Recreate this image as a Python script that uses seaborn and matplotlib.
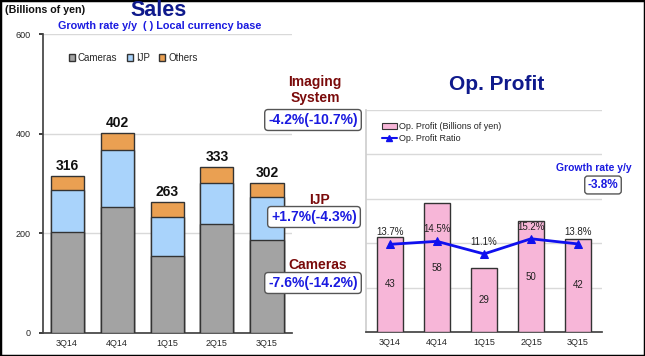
import matplotlib
matplotlib.use("Agg")
import matplotlib.pyplot as plt
import seaborn as sns
import pandas as pd
from matplotlib.patches import Rectangle
from matplotlib.lines import Line2D

quarters = ["3Q14", "4Q14", "1Q15", "2Q15", "3Q15"]
cameras = [202, 252, 154, 218, 186]
ijp = [84, 116, 78, 84, 86]
others = [30, 34, 31, 31, 30]
sales_totals = [316, 402, 263, 333, 302]
op_profit = [43, 58, 29, 50, 42]
op_ratio = [13.7, 14.5, 11.1, 15.2, 13.8]
ratio_labels = ["13.7%", "14.5%", "11.1%", "15.2%", "13.8%"]
sales_ticks = [0, 200, 400, 600]

sns.set_theme(style="white")
plt.rcParams["font.family"] = ["Liberation Sans", "DejaVu Sans"]

W, H = 645, 356
fig = plt.figure(figsize=(W / 100, H / 100), dpi=100)

def fx(px):
    return px / W

def fy(py):
    return 1 - py / H

df = pd.DataFrame({"q": quarters, "cam": cameras, "ijp": ijp, "oth": others})
df["lvl2"] = df["cam"] + df["ijp"]
df["lvl3"] = df["lvl2"] + df["oth"]

# ---------- Sales axes ----------
ax1 = fig.add_axes([fx(43), fy(333), fx(292) - fx(43), fy(34) - fy(333)])
edge = "#333333"
sns.barplot(data=df, x="q", y="lvl3", order=quarters, color="#eaa052", edgecolor=edge,
            linewidth=1, width=0.66, saturation=1, ax=ax1, label="Others", zorder=3)
sns.barplot(data=df, x="q", y="lvl2", order=quarters, color="#a9d3fb", edgecolor=edge,
            linewidth=1, width=0.66, saturation=1, ax=ax1, label="IJP", zorder=3)
sns.barplot(data=df, x="q", y="cam", order=quarters, color="#a3a3a3", edgecolor=edge,
            linewidth=1, width=0.66, saturation=1, ax=ax1, label="Cameras", zorder=3)
ax1.set_ylim(0, 600)
ax1.set_xlim(-0.48, 4.5)
ax1.set_yticks(sales_ticks)
ax1.set_yticklabels([str(t) for t in sales_ticks], fontsize=6.5)
ax1.tick_params(axis="x", labelsize=6.5, length=0, pad=4)
ax1.tick_params(axis="y", length=3, pad=6, left=True)
ax1.set_xlabel("")
ax1.set_ylabel("")
ax1.grid(axis="y", color="#d9d9d9", linewidth=1, zorder=0)
for s in ["top", "right"]:
    ax1.spines[s].set_visible(False)
ax1.spines["left"].set_color("#444444")
ax1.spines["bottom"].set_color("#444444")
for i, t in enumerate(sales_totals):
    ax1.annotate(str(t), (i, t), xytext=(0, 2), textcoords="offset points",
                 ha="center", va="bottom", fontsize=10, fontweight="bold", color="#111111")
h, l = ax1.get_legend_handles_labels()
order = [l.index("Cameras"), l.index("IJP"), l.index("Others")]
ax1.legend([h[i] for i in order], [l[i] for i in order], loc="center left",
           bbox_to_anchor=(0.07, 0.92), ncol=3, frameon=False, fontsize=7,
           handlelength=0.6, handleheight=0.6, handletextpad=0.3, columnspacing=1.0)

# ---------- Op. Profit axes ----------
ax2 = fig.add_axes([fx(366), fy(332), fx(602) - fx(366), fy(110) - fy(332)])
pdf = pd.DataFrame({"q": quarters, "op": op_profit, "ratio": op_ratio})
sns.barplot(data=pdf, x="q", y="op", order=quarters, color="#f7b6d8", edgecolor=edge,
            linewidth=1, width=0.55, saturation=1, ax=ax2, zorder=3)
ax2.set_ylim(0, 100)
ax2.set_xlim(-0.51, 4.51)
ax2.set_yticks([20, 40, 60, 80, 100])
ax2.set_yticklabels([])
ax2.tick_params(axis="y", length=0)
ax2.tick_params(axis="x", labelsize=6.5, length=0, pad=4)
ax2.set_xlabel("")
ax2.set_ylabel("")
ax2.grid(axis="y", color="#d9d9d9", linewidth=1, zorder=0)
for s in ["top", "right"]:
    ax2.spines[s].set_visible(False)
ax2.spines["left"].set_color("#cfcfcf")
ax2.spines["bottom"].set_color("#444444")
for i, v in enumerate(op_profit):
    ax2.text(i, v / 2, str(v), ha="center", va="center", fontsize=7, color="#222222", zorder=5)

ax3 = ax2.twinx()
sns.lineplot(data=pdf, x="q", y="ratio", ax=ax3, color="#1010ee", linewidth=2,
             marker="^", markersize=6, markeredgecolor="#1010ee", sort=False, zorder=6)
ax3.set_ylim(-10, 50)
ax3.set_xlim(-0.51, 4.51)
ax3.set_yticks([])
ax3.set_ylabel("")
ax3.set_xlabel("")
for s in ["top", "right", "left", "bottom"]:
    ax3.spines[s].set_visible(False)
for i, (v, lab) in enumerate(zip(op_ratio, ratio_labels)):
    ax3.annotate(lab, (i, v), xytext=(0, 5), textcoords="offset points",
                 ha="center", va="bottom", fontsize=7, color="#222222")

leg_handles = [Rectangle((0, 0), 1, 1, fc="#f7b6d8", ec=edge, lw=0.8),
               Line2D([0], [0], color="#1010ee", lw=1.5, marker="^", markersize=4)]
fig.legend(leg_handles, ["Op. Profit (Billions of yen)", "Op. Profit Ratio"],
           loc="upper left", bbox_to_anchor=(fx(374), fy(114)), frameon=False,
           fontsize=6.5, handlelength=1.6, handleheight=0.7, handletextpad=0.3,
           labelspacing=0.3)

# ---------- Texts ----------
navy = "#0f1a8c"
blue = "#1a1ae0"
dred = "#7a0a0a"
fig.text(fx(5), fy(10), "(Billions of yen)", fontsize=7.7, fontweight="bold",
         color="#111111", va="center", ha="left")
fig.text(fx(159), fy(20.5), "Sales", fontsize=15.5, fontweight="bold", color=navy,
         va="bottom", ha="center")
fig.text(fx(58), fy(21), "Growth rate y/y  ( ) Local currency base", fontsize=7.8,
         fontweight="bold", color=blue, va="top", ha="left")
fig.text(fx(497), fy(85), "Op. Profit", fontsize=15, fontweight="bold", color=navy,
         va="center", ha="center")

box = dict(boxstyle="round,pad=0.25", fc="white", ec="#555555", lw=1)
fig.text(fx(315), fy(90), "Imaging\nSystem", fontsize=10, fontweight="bold", color=dred,
         va="center", ha="center", linespacing=1.25)
fig.text(fx(313), fy(120), "-4.2%(-10.7%)", fontsize=10, fontweight="bold", color=blue,
         va="center", ha="center", bbox=box)
fig.text(fx(320), fy(200), "IJP", fontsize=10, fontweight="bold", color=dred,
         va="center", ha="center")
fig.text(fx(314), fy(217), "+1.7%(-4.3%)", fontsize=10, fontweight="bold", color=blue,
         va="center", ha="center", bbox=box)
fig.text(fx(318), fy(265), "Cameras", fontsize=10, fontweight="bold", color=dred,
         va="center", ha="center")
fig.text(fx(313), fy(283), "-7.6%(-14.2%)", fontsize=10, fontweight="bold", color=blue,
         va="center", ha="center", bbox=box)
fig.text(fx(594), fy(168), "Growth rate y/y", fontsize=7.5, fontweight="bold", color=blue,
         va="center", ha="center")
fig.text(fx(603), fy(185), "-3.8%", fontsize=8.5, fontweight="bold", color=blue,
         va="center", ha="center", bbox=box)

# outer frame
fig.patches.append(Rectangle((0, 0), 1, 1, transform=fig.transFigure, fill=False,
                             ec="black", lw=2.5))

fig.savefig("out.png", dpi=100)
